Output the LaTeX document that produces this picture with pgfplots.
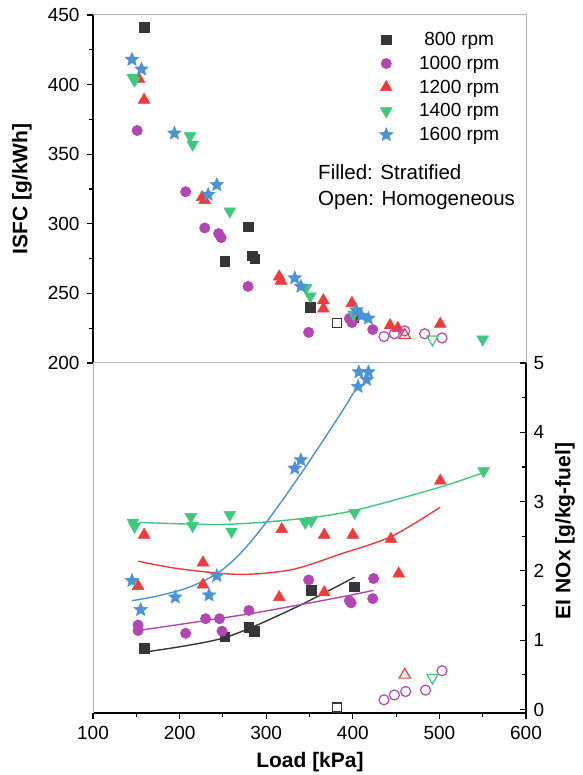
\documentclass[border=0pt]{standalone}
\usepackage{pgfplots}
\pgfplotsset{compat=1.18}
\usepackage{fontspec}
\setmainfont{Liberation Sans}
\definecolor{cblk}{HTML}{363636}
\definecolor{cpur}{HTML}{B446B4}
\definecolor{cred}{HTML}{EE3B3B}
\definecolor{cgrn}{HTML}{3DC97E}
\definecolor{cblu}{HTML}{4C93D6}
\definecolor{cgray}{HTML}{B4B4B4}
\pgfdeclareplotmark{fstar}{%
  \pgfpathmoveto{\pgfpointpolar{90}{\pgfplotmarksize}}%
  \pgfpathlineto{\pgfpointpolar{126}{0.45\pgfplotmarksize}}%
  \pgfpathlineto{\pgfpointpolar{162}{\pgfplotmarksize}}%
  \pgfpathlineto{\pgfpointpolar{198}{0.45\pgfplotmarksize}}%
  \pgfpathlineto{\pgfpointpolar{234}{\pgfplotmarksize}}%
  \pgfpathlineto{\pgfpointpolar{270}{0.45\pgfplotmarksize}}%
  \pgfpathlineto{\pgfpointpolar{306}{\pgfplotmarksize}}%
  \pgfpathlineto{\pgfpointpolar{342}{0.45\pgfplotmarksize}}%
  \pgfpathlineto{\pgfpointpolar{18}{\pgfplotmarksize}}%
  \pgfpathlineto{\pgfpointpolar{54}{0.45\pgfplotmarksize}}%
  \pgfpathclose\pgfusepathqfillstroke}
\newcommand\fs{\fontsize{19}{23}\selectfont}
\newcommand\ft{\fontsize{20.5}{24}\selectfont}
\newcommand\flab{\fontsize{21}{25}\selectfont\bfseries}
\pgfplotsset{
  sblk/.style={only marks, mark=square*, mark size=4.8pt, color=cblk, mark options={fill=cblk, line width=0.5pt}},
  sblko/.style={only marks, mark=square, mark size=4.5pt, color=cblk, mark options={fill=white, line width=1.2pt}},
  spur/.style={only marks, mark=*, mark size=5.2pt, color=cpur, mark options={fill=cpur, line width=0.5pt}},
  spuro/.style={only marks, mark=o, mark size=5pt, color=cpur, mark options={fill=white, line width=1.2pt}},
  sred/.style={only marks, mark=triangle*, mark size=6.8pt, color=cred, mark options={fill=cred, line width=0.5pt}},
  sredo/.style={only marks, mark=triangle, mark size=6.5pt, color=cred, mark options={fill=white, line width=1.2pt}},
  sgrn/.style={only marks, mark=triangle*, mark size=6.8pt, color=cgrn, mark options={fill=cgrn, rotate=180, line width=0.5pt}},
  sgrno/.style={only marks, mark=triangle, mark size=6.5pt, color=cgrn, mark options={fill=white, rotate=180, line width=1.2pt}},
  sblu/.style={only marks, mark=fstar, mark size=7.2pt, color=cblu, mark options={fill=cblu, line width=0.4pt}},
  common/.style={scale only axis, width=433pt, clip=false, xmin=100, xmax=600,
    /pgf/number format/assume math mode=true,
    tick label style={font=\fs, text=black},
    axis line style={-, line width=1.3pt, black},
    major tick length=6pt, minor tick length=4pt,
    tick style={line width=1.1pt, black}},
}
\begin{document}
\begin{tikzpicture}
\useasboundingbox (0pt,0pt) rectangle (582pt,775pt);
% ---------------- top panel: ISFC ----------------
\begin{axis}[common, at={(93pt,412pt)}, anchor=south west, height=348pt,
  ymin=200, ymax=450, axis x line=none, axis y line*=left, xtick=\empty,
  ytick={200,250,...,450}, minor y tick num=1, tick align=outside,
  yticklabel style={xshift=-4pt},
  ylabel={ISFC [g/kWh]},
  every axis y label/.style={at={(axis description cs:-0.164,0.5)}, rotate=90, anchor=center, font=\flab},
  legend style={draw=none, fill=none, at={(axis description cs:0.654,0.962)}, anchor=north west,
    font=\fs, row sep=5pt, column sep=24pt},
  legend cell align=center]
\draw[cgray, line width=1pt] (rel axis cs:0,0) -- (rel axis cs:1,0) -- (rel axis cs:1,1) -- (rel axis cs:0,1);
\addplot[sblk] coordinates {(159,441) (252,273) (279,298) (284,277) (287,275) (351,240) (401,233)};
\addlegendentry{800 rpm}
\addplot[spur] coordinates {(151,367) (207,323) (229,297) (245,293) (248,290) (279,255) (349,222) (396,232) (399,229) (423,224)};
\addlegendentry{1000 rpm}
\addplot[sred] coordinates {(153,404) (159,389) (226,319) (229,317) (315,262) (317,259) (366,245) (366,239) (399,243) (443,227) (452,225) (501,228)};
\addlegendentry{1200 rpm}
\addplot[sgrn] coordinates {(146,405) (148,403) (212,363) (215,357) (258,309) (346,254) (351,248) (401,235) (550,217)};
\addlegendentry{1400 rpm}
\addplot[sblu] coordinates {(145,418) (156,411) (194,365) (233,321) (243,328) (333,261) (340,255) (404,238) (410,234) (418,232)};
\addlegendentry{1600 rpm}
\addplot[sblko, forget plot] coordinates {(382,229)};
\addplot[spuro, forget plot] coordinates {(436,219) (448,221) (460,223) (483,221) (503,218)};
\addplot[sredo, forget plot] coordinates {(460,220)};
\addplot[sgrno, forget plot] coordinates {(492,217)};
\node[font=\ft, anchor=west] at (axis description cs:0.512,0.547) {Filled: Stratified};
\node[font=\ft, anchor=west] at (axis description cs:0.512,0.467) {Open: Homogeneous};
\end{axis}
% ---------------- bottom panel: EI NOx (data + x axis) ----------------
\begin{axis}[common, at={(93pt,62pt)}, anchor=south west, height=350pt,
  ymin=-0.05, ymax=5, axis x line*=bottom, axis y line=none, ytick=\empty,
  xtick={100,200,...,600}, minor x tick num=1, tick align=outside,
  xticklabel style={yshift=-4pt},
  xlabel={Load [kPa]},
  every axis x label/.style={at={(axis description cs:0.501,-0.14)}, anchor=center, font=\flab}]
\draw[cgray, line width=1pt] (rel axis cs:0,0) -- (rel axis cs:0,1);
% fitted curves
\addplot[cblk, line width=1.4pt, smooth] coordinates {(160,0.83) (250,1.03) (330,1.45) (402,1.91)};
\addplot[cpur, line width=1.4pt, smooth] coordinates {(152,1.14) (280,1.38) (385,1.62) (424,1.72)};
\addplot[cred, line width=1.4pt, smooth] coordinates {(152,2.14) (200,2.03) (270,1.95) (330,2.02) (385,2.24) (445,2.50) (501,2.92)};
\addplot[cgrn, line width=1.4pt, smooth] coordinates {(154,2.70) (247,2.67) (330,2.74) (401,2.87) (501,3.21) (551,3.42)};
\addplot[cblu, line width=1.4pt, smooth] coordinates {(145,1.57) (175,1.64) (210,1.76) (243,1.96) (270,2.25) (300,2.70) (340,3.40) (385,4.25) (406,4.68)};
% markers
\addplot[sblk] coordinates {(159,0.88) (252,1.05) (280,1.19) (286,1.13) (352,1.72) (402,1.77)};
\addplot[spur] coordinates {(152,1.22) (152,1.14) (207,1.10) (230,1.31) (246,1.31) (249,1.13) (280,1.43) (349,1.87) (396,1.57) (398,1.54) (424,1.89) (423,1.60)};
\addplot[sred] coordinates {(159,2.52) (152,1.78) (227,2.12) (227,1.80) (315,1.62) (318,2.60) (367,2.52) (367,1.69) (400,2.52) (444,2.46) (453,1.96) (501,3.30)};
\addplot[sgrn] coordinates {(146,2.70) (148,2.64) (213,2.78) (215,2.65) (258,2.81) (260,2.57) (345,2.70) (352,2.72) (402,2.84) (551,3.44)};
\addplot[sblu] coordinates {(145,1.86) (155,1.44) (195,1.62) (234,1.65) (243,1.93) (333,3.48) (340,3.60) (406,4.66) (407,4.87) (416,4.76) (418,4.87)};
\addplot[sblko] coordinates {(382,0.03)};
\addplot[spuro] coordinates {(436,0.14) (448,0.21) (461,0.26) (484,0.28) (503,0.56)};
\addplot[sredo] coordinates {(460,0.50)};
\addplot[sgrno] coordinates {(492,0.46)};
\end{axis}
% ---------------- bottom panel: right y axis ----------------
\begin{axis}[common, at={(93pt,62pt)}, anchor=south west, height=350pt,
  ymin=-0.05, ymax=5, axis x line=none, axis y line*=right, xtick=\empty,
  ytick={0,1,...,5}, minor y tick num=1, tick align=inside,
  yticklabel style={xshift=4pt},
  ylabel={EI NOx [g/kg-fuel]},
  every axis y label/.style={at={(axis description cs:1.09,0.52)}, rotate=90, anchor=center, font=\flab}]
\addplot[draw=none, forget plot] coordinates {(100,0)};
\end{axis}
\end{tikzpicture}
\end{document}
